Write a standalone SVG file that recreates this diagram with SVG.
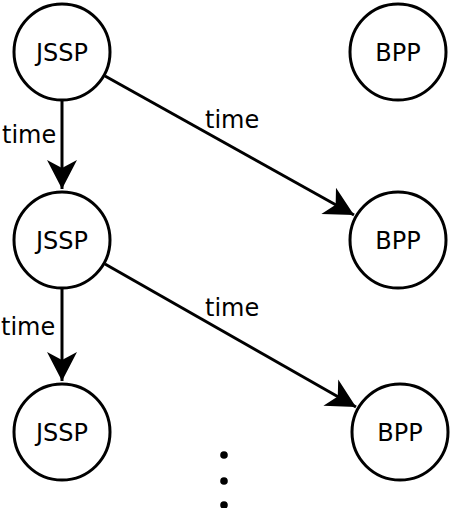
<svg xmlns="http://www.w3.org/2000/svg" width="452" height="508" viewBox="0 0 452 508">
<style>
.node circle{fill:#fff;stroke:#000;stroke-width:3}
.node text{font-family:"DejaVu Sans",sans-serif;font-size:24px;text-anchor:middle;fill:#000}
.edge line{stroke:#000;stroke-width:3}
.lbl{font-family:"DejaVu Sans",sans-serif;font-size:24px;fill:#000}
</style>
<defs>
<marker id="arr" markerUnits="userSpaceOnUse" markerWidth="40" markerHeight="40" viewBox="-30 -20 40 40" refX="0" refY="0" orient="auto">
<path d="M0,0 L-29,-15 L-21,0 L-29,15 Z" fill="#000"/>
</marker>
</defs>
<g id="connectors" class="edge">
<line x1="62" y1="101" x2="62" y2="189" marker-end="url(#arr)"/>
<line x1="105" y1="76" x2="354" y2="215" marker-end="url(#arr)"/>
<line x1="62" y1="289" x2="62" y2="381" marker-end="url(#arr)"/>
<line x1="105" y1="264" x2="356" y2="407" marker-end="url(#arr)"/>
<text class="lbl" x="2" y="143">time</text>
<text class="lbl" x="205" y="128">time</text>
<text class="lbl" x="1" y="335">time</text>
<text class="lbl" x="205" y="316">time</text>
</g>
<g id="jssp1" class="node"><circle cx="62" cy="52" r="48"/><text x="62" y="61">JSSP</text></g>
<g id="bpp1" class="node"><circle cx="398" cy="52" r="48"/><text x="398" y="61">BPP</text></g>
<g id="jssp2" class="node"><circle cx="62" cy="240" r="48"/><text x="62" y="249">JSSP</text></g>
<g id="bpp2" class="node"><circle cx="398" cy="240" r="48"/><text x="398" y="249">BPP</text></g>
<g id="jssp3" class="node"><circle cx="62" cy="432" r="48"/><text x="62" y="441">JSSP</text></g>
<g id="bpp3" class="node"><circle cx="400" cy="432" r="48"/><text x="400" y="441">BPP</text></g>
<g id="dots">
<circle cx="224" cy="455" r="3.8"/>
<circle cx="224" cy="481" r="3.8"/>
<circle cx="224" cy="505" r="3.8"/>
</g>
</svg>
